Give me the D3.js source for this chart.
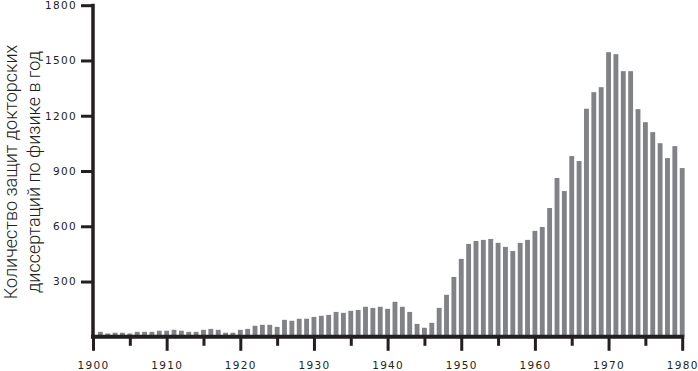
<!DOCTYPE html>
<html>
<head>
<meta charset="utf-8">
<script src="https://cdn.jsdelivr.net/npm/d3@7"></script>
<style>
  body { margin: 0; background: #fff; }
  svg { display: block; }
  .tick text { font-family: "DejaVu Sans", sans-serif; font-size: 10.5px; letter-spacing: 1.3px; fill: #231f20; }
</style>
</head>
<body>
<div id="chart"></div>
<script>
var W = 698, H = 371;

// years and number of physics PhD defences per year
var years = d3.range(1901, 1981);
var counts = [
  27, 18, 22, 22, 18, 27, 27, 27, 33, 33,      // 1901-1910
  38, 33, 27, 27, 38, 43, 38, 22, 22, 38,      // 1911-1920
  43, 60, 65, 65, 54, 92, 87, 98, 98, 108,     // 1921-1930
  114, 119, 135, 130, 141, 146, 163, 157, 163, 152, // 1931-1940
  190, 163, 135, 70, 49, 76, 157, 228, 325, 423,    // 1941-1950
  504, 520, 526, 531, 510, 488, 466, 510, 526, 575, // 1951-1960
  596, 699, 862, 791, 981, 954, 1238, 1328, 1355, 1545, // 1961-1970
  1534, 1442, 1442, 1236, 1165, 1111, 1051, 970, 1035, 916 // 1971-1980
];
var yTicks = [300, 600, 900, 1200, 1500, 1800];
var majorYears = [1900, 1910, 1920, 1930, 1940, 1950, 1960, 1970, 1980];
var minorYears = [1905, 1915, 1925, 1935, 1945, 1955, 1965, 1975];

var ink = "#231f20";

var svg = d3.select("#chart").append("svg")
    .attr("width", W)
    .attr("height", H);

var x = d3.scaleLinear().domain([1900, 1980]).range([93, 682.2]);
var y = d3.scaleLinear().domain([0, 1800]).range([336.8, 5.2]);
var barW = (x(1901) - x(1900)) * 0.66;

// bars
svg.append("g").selectAll("rect")
    .data(years)
    .enter().append("rect")
    .attr("x", function(d) { return x(d) - barW / 2; })
    .attr("y", function(d, i) { return y(counts[i]); })
    .attr("width", barW)
    .attr("height", function(d, i) { return y(0) - y(counts[i]); })
    .attr("fill", "#808285");

// x axis - major ticks with labels
var gx = svg.append("g")
    .attr("transform", "translate(0," + y(0) + ")")
    .call(d3.axisBottom(x).tickValues(majorYears).tickFormat(d3.format("d"))
        .tickSize(14).tickPadding(11));
gx.select(".domain").remove();
gx.selectAll(".tick line").attr("stroke", ink).attr("stroke-width", 3);

// x axis - minor ticks
var gx2 = svg.append("g")
    .attr("transform", "translate(0," + y(0) + ")")
    .call(d3.axisBottom(x).tickValues(minorYears).tickFormat("").tickSize(9));
gx2.select(".domain").remove();
gx2.selectAll(".tick line").attr("stroke", ink).attr("stroke-width", 3);

// y axis
var gy = svg.append("g")
    .attr("transform", "translate(" + x(1900) + ",0)")
    .call(d3.axisLeft(y).tickValues(yTicks).tickFormat(d3.format("d"))
        .tickSize(12).tickPadding(4));
gy.select(".domain").remove();
gy.selectAll(".tick line").attr("stroke", ink).attr("stroke-width", 3);

// axis lines
svg.append("line")
    .attr("x1", x(1900) - 2).attr("x2", x(1980) + 2)
    .attr("y1", y(0)).attr("y2", y(0))
    .attr("stroke", ink).attr("stroke-width", 4);
svg.append("line")
    .attr("x1", x(1900)).attr("x2", x(1900))
    .attr("y1", y(1800) - 1.5).attr("y2", y(0))
    .attr("stroke", ink).attr("stroke-width", 3.5);

// y title
var title = svg.append("text")
    .attr("transform", "translate(0,172) rotate(-90)")
    .attr("text-anchor", "middle")
    .attr("font-family", "Roboto, sans-serif")
    .attr("font-weight", 300)
    .attr("font-size", "18px")
    .attr("fill", ink);
title.append("tspan").attr("x", 0).attr("y", 16.5).text("Количество защит докторских");
title.append("tspan").attr("x", 0).attr("y", 40).text("диссертаций по физике в год");
</script>
</body>
</html>
